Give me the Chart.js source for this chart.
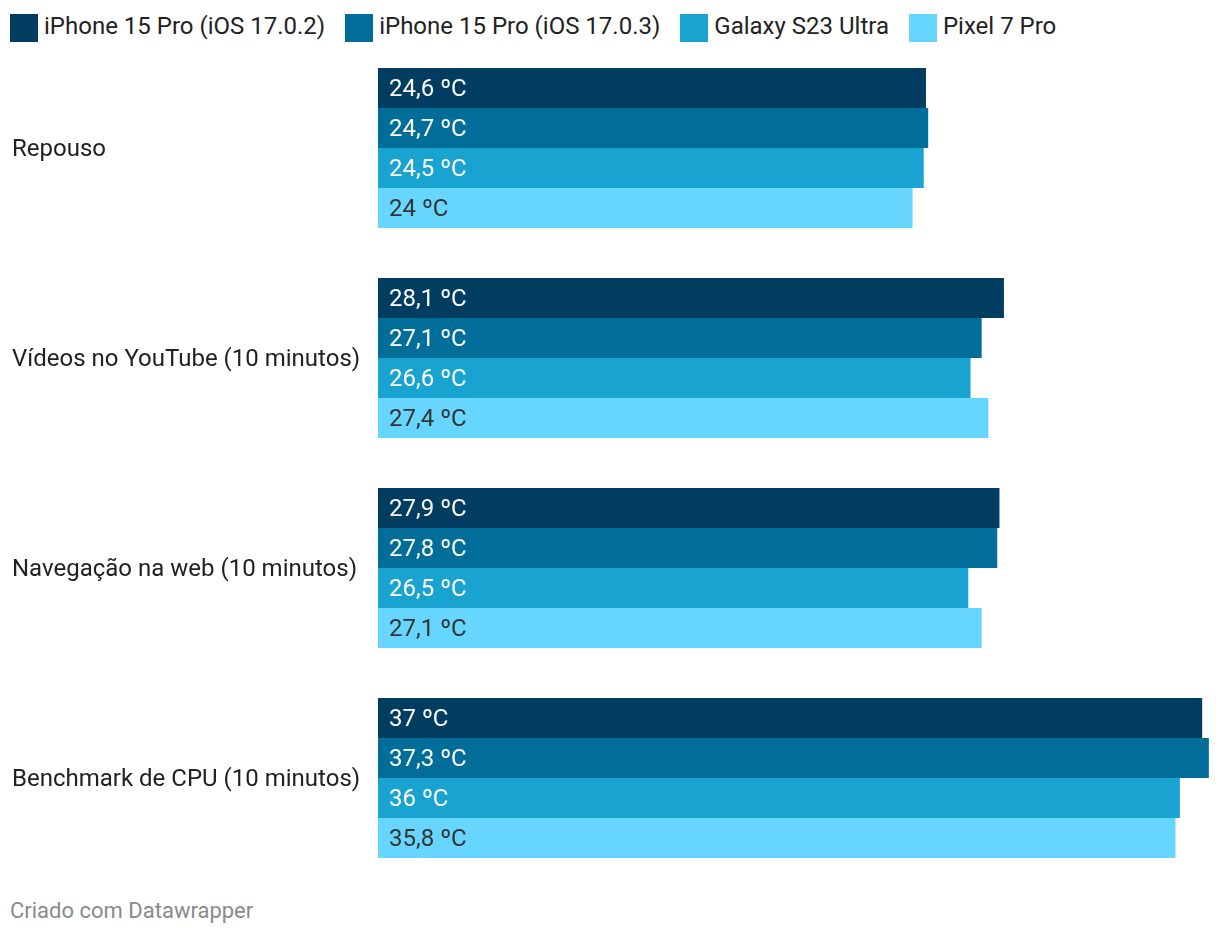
<!DOCTYPE html>
<html>
<head>
<meta charset="utf-8">
<script src="https://cdn.jsdelivr.net/npm/chart.js@4/dist/chart.umd.min.js"></script>
<style>
  html, body { margin: 0; padding: 0; background: #fff; }
  body { width: 1220px; height: 936px; position: relative; overflow: hidden; font-family: Roboto, "Noto Sans", sans-serif; }
  #legend { position: absolute; left: 10px; top: 14px; display: flex; align-items: center; height: 28px; }
  .item { display: flex; align-items: center; margin-right: 20px; }
  .sw { width: 28px; height: 28px; margin-right: 6px; }
  .lt { font-size: 24px; color: #222; line-height: 28px; position: relative; top: -2px; }
  #wrap { position: absolute; left: 0; top: 43px; width: 1220px; height: 840px; }
  #footer { position: absolute; left: 10px; top: 898px; font-size: 22px; color: #8a8a8a; }
</style>
</head>
<body>
<div id="legend"></div>
<div id="wrap"><canvas id="c" width="1220" height="840"></canvas></div>
<div id="footer">Criado com Datawrapper</div>
<script>
const categories = ["Repouso", "Vídeos no YouTube (10 minutos)", "Navegação na web (10 minutos)", "Benchmark de CPU (10 minutos)"];
const seriesNames = ["iPhone 15 Pro (iOS 17.0.2)", "iPhone 15 Pro (iOS 17.0.3)", "Galaxy S23 Ultra", "Pixel 7 Pro"];
const iphone1702 = [24.6, 28.1, 27.9, 37];
const iphone1703 = [24.7, 27.1, 27.8, 37.3];
const galaxyS23 = [24.5, 26.6, 26.5, 36];
const pixel7 = [24, 27.4, 27.1, 35.8];
const colors = ["#003d60", "#006e98", "#18a3d0", "#66d6ff"];
const labelColors = ["#ffffff", "#ffffff", "#ffffff", "#333333"];

const seriesValues = [iphone1702, iphone1703, galaxyS23, pixel7];

const legend = document.getElementById('legend');
seriesNames.forEach((n, i) => {
  const it = document.createElement('div'); it.className = 'item';
  const sw = document.createElement('div'); sw.className = 'sw'; sw.style.background = colors[i];
  const t = document.createElement('span'); t.className = 'lt'; t.textContent = n;
  it.appendChild(sw); it.appendChild(t); legend.appendChild(it);
});

const fmt = v => String(v).replace('.', ',') + ' ºC';

const valueLabels = {
  id: 'valueLabels',
  afterDatasetsDraw(chart) {
    const ctx = chart.ctx;
    ctx.save();
    ctx.font = '24px Roboto, "Noto Sans", sans-serif';
    ctx.textAlign = 'left';
    ctx.textBaseline = 'middle';
    chart.data.datasets.forEach((ds, di) => {
      const meta = chart.getDatasetMeta(di);
      meta.data.forEach((el, i) => {
        ctx.fillStyle = labelColors[di];
        ctx.fillText(fmt(ds.data[i]), el.base + 11, el.y + 2);
      });
    });
    ctx.restore();
  }
};

new Chart(document.getElementById('c'), {
  type: 'bar',
  data: {
    labels: categories,
    datasets: seriesValues.map((vals, i) => ({
      label: seriesNames[i],
      data: vals,
      backgroundColor: colors[i],
      borderWidth: 0,
      categoryPercentage: 160 / 210,
      barPercentage: 1.0
    }))
  },
  options: {
    indexAxis: 'y',
    responsive: false,
    animation: false,
    devicePixelRatio: 1,
    layout: { padding: { left: 12, right: 0, top: 0, bottom: 0 } },
    plugins: { legend: { display: false }, tooltip: { enabled: false } },
    scales: {
      x: { display: false, min: 0, max: 37.8 },
      y: {
        grid: { display: false },
        border: { display: false },
        ticks: {
          crossAlign: 'far',
          labelOffset: 2,
          color: '#222',
          font: { family: 'Roboto, "Noto Sans", sans-serif', size: 24 }
        },
        afterFit(scale) { scale.width = 366; scale.paddingTop = 0; scale.paddingBottom = 0; }
      }
    }
  },
  plugins: [valueLabels]
});
</script>
</body>
</html>
